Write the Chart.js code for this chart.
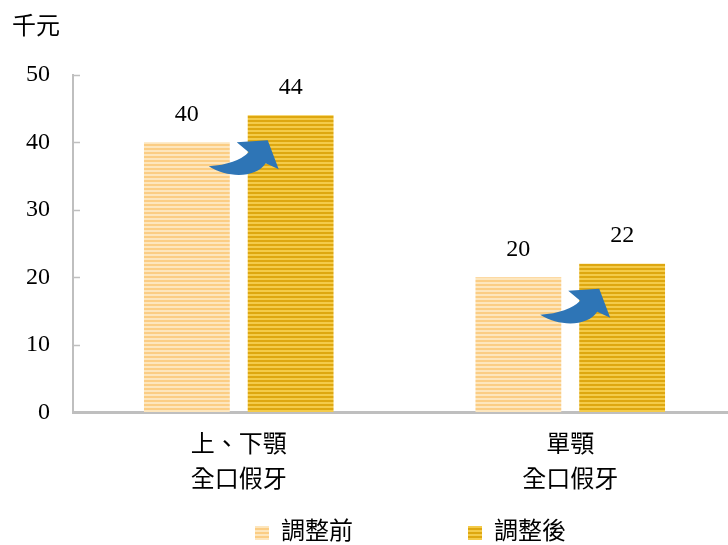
<!DOCTYPE html>
<html>
<head>
<meta charset="utf-8">
<script src="https://cdn.jsdelivr.net/npm/chart.js@4/dist/chart.umd.min.js"></script>
<style>
  html, body { margin: 0; padding: 0; background: #fff; overflow: hidden; }
  #wrap { width: 736px; height: 545px; }
</style>
</head>
<body>
<div id="wrap"><canvas id="chartdiv"></canvas></div>
<script>
var categories = [['上、下顎', '全口假牙'], ['單顎', '全口假牙']];
var seriesNames = ['調整前', '調整後'];
var before = [40, 20];
var after = [44, 22];
var yMin = 0, yMax = 50, yStep = 10;
var unitLabel = '千元';

var FONT = "'Liberation Serif', 'Noto Sans CJK TC', serif";

// striped fill like the original bars
var stripes = function(dark, light) {
    var c = document.createElement('canvas');
    c.width = 4; c.height = 4;
    var x = c.getContext('2d');
    x.fillStyle = light; x.fillRect(0, 0, 4, 4);
    x.fillStyle = dark; x.fillRect(0, 0, 4, 2);
    return x.createPattern(c, 'repeat');
};
var fillBefore = stripes('#fbcd84', '#fde6bd');
var fillAfter = stripes('#dea710', '#f4cb4a');

// value labels, little inner ticks on the y axis, and the blue arrows
var extras = {
    id: 'extras',
    afterLayout: function(chart) {
        // legend sits a bit right of centre in the original
        chart.legend.left += 6;
        chart.legend.right += 6;
    },
    afterDatasetsDraw: function(chart) {
        var ctx = chart.ctx;
        var y = chart.scales.y;
        var area = chart.chartArea;
        ctx.save();
        ctx.strokeStyle = '#bfbfbf';
        ctx.lineWidth = 1.5;
        y.ticks.forEach(function(t) {
            var py = Math.round(y.getPixelForValue(t.value)) + 0.5;
            ctx.beginPath();
            ctx.moveTo(area.left, py);
            ctx.lineTo(area.left + 7, py);
            ctx.stroke();
        });

        ctx.fillStyle = '#000';
        ctx.font = '24px ' + FONT;
        ctx.textAlign = 'center';
        ctx.textBaseline = 'middle';
        chart.data.datasets.forEach(function(ds, di) {
            chart.getDatasetMeta(di).data.forEach(function(bar, i) {
                ctx.fillText(String(ds.data[i]), bar.x, bar.y - 28);
            });
        });

        var m1 = chart.getDatasetMeta(1).data;
        ctx.fillStyle = '#2e75b6';
        m1.forEach(function(rb) {
            var tx = rb.x - rb.width / 2 + 20;
            var ty = rb.y + 25;
            ctx.beginPath();
            ctx.moveTo(tx - 59, ty + 26);
            ctx.quadraticCurveTo(tx - 31, ty + 24, tx - 19, ty + 12);
            ctx.lineTo(tx - 31, ty + 2);
            ctx.lineTo(tx, ty);
            ctx.lineTo(tx + 11, ty + 29);
            ctx.lineTo(tx - 2, ty + 23);
            ctx.bezierCurveTo(tx - 12, ty + 38, tx - 40, ty + 38, tx - 59, ty + 26);
            ctx.closePath();
            ctx.fill();
        });
        ctx.restore();
    }
};

var ctxgen = document.getElementById('chartdiv').getContext('2d');
var chartgen = new Chart(ctxgen, {
    type: 'bar',
    data: {
        labels: categories,
        datasets: [
            { label: seriesNames[0], data: before, backgroundColor: fillBefore, borderWidth: 0 },
            { label: seriesNames[1], data: after, backgroundColor: fillAfter, borderWidth: 0 }
        ]
    },
    options: {
        responsive: true,
        maintainAspectRatio: false,
        animation: false,
        categoryPercentage: 0.626,
        barPercentage: 0.827,
        layout: { padding: { left: 12, right: 0, top: 0, bottom: -10 } },
        plugins: {
            tooltip: { enabled: false },
            title: {
                display: true,
                text: unitLabel,
                align: 'start',
                color: '#000',
                font: { family: FONT, size: 24, weight: 'normal' },
                padding: { top: 13, bottom: 33 }
            },
            legend: {
                position: 'bottom',
                fullSize: false,
                labels: {
                    color: '#000',
                    font: { family: FONT, size: 24 },
                    boxWidth: 14,
                    boxHeight: 14,
                    padding: 7,
                    generateLabels: function(chart) {
                        var items = Chart.defaults.plugins.legend.labels.generateLabels(chart);
                        items[0].text = items[0].text + '\u3000\u3000\u3000\u3000  ';
                        return items;
                    }
                }
            }
        },
        scales: {
            x: {
                grid: { display: true, drawOnChartArea: false, drawTicks: false },
                border: { display: true, color: '#bfbfbf', width: 3 },
                ticks: {
                    color: '#000',
                    padding: 16,
                    font: { family: FONT, size: 24, lineHeight: 1.45 }
                }
            },
            y: {
                min: yMin,
                max: yMax,
                afterFit: function(s) { s.width = 61; },
                grid: { display: true, drawOnChartArea: false, drawTicks: false },
                border: { display: true, color: '#bfbfbf', width: 2 },
                ticks: {
                    stepSize: yStep,
                    color: '#000',
                    padding: 23,
                    font: { family: FONT, size: 24 }
                }
            }
        }
    },
    plugins: [extras]
});
</script>
</body>
</html>
